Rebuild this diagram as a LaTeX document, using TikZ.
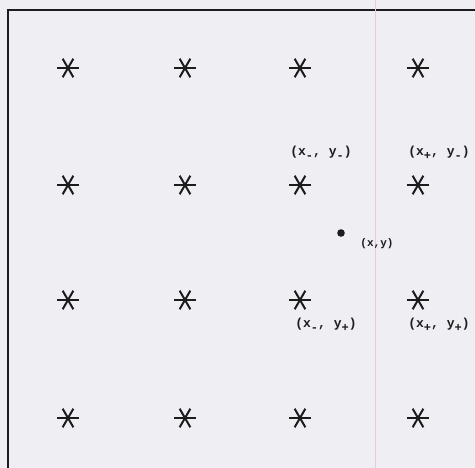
\documentclass[tikz,border=0pt]{standalone}
\usepackage{fontspec}
\setmonofont{Liberation Mono}
\definecolor{paper}{HTML}{EEEEF3}
\definecolor{ink}{HTML}{1C1C1E}
\definecolor{seam}{HTML}{EBC9DD}
\newcommand\low[1]{\raisebox{-0.5ex}{\fontsize{12}{12}\selectfont#1}}

\begin{document}
\begin{tikzpicture}[x=1pt,y=-1pt,
  star/.style={circle,minimum size=21pt,inner sep=0pt},
  arm/.style={ink,line width=2pt},
  corner/.style={font=\ttfamily\bfseries\fontsize{13}{15}\selectfont,inner sep=1pt,text=ink}]
  % sheet
  \fill[paper] (0,0) rectangle (475,468);
  \useasboundingbox (0,0) rectangle (475,468);
  \draw[ink,line width=1.5pt] (495,10) -- (8,10) -- (8,490);
  \draw[seam,line width=0.6pt] (375,0) -- (375,468);
  % grid of stars
  \foreach \i/\x in {1/68,2/185,3/300,4/418}
    \foreach \j/\y in {1/68,2/185,3/300,4/418}{
      \node[star] (s-\i-\j) at (\x,\y) {};
      \foreach \a in {0,60,120}
        \draw[arm] (s-\i-\j.\a) -- (s-\i-\j.\a+180);
    }
  % corner labels
  \node[corner] (lab-mm) at (321,153) {(x\low{-}, y\low{-})};
  \node[corner] (lab-pm) at (439,153) {(x\low{+}, y\low{-})};
  \node[corner] (lab-mp) at (326,325) {(x\low{-}, y\low{+})};
  \node[corner] (lab-pp) at (439,325) {(x\low{+}, y\low{+})};
  % the point
  \fill[ink] (341,233) circle (3.8);
  \node[corner,font=\ttfamily\bfseries\fontsize{11}{13}\selectfont] (lab-xy) at (377,244) {(x,y)};
\end{tikzpicture}
\end{document}
